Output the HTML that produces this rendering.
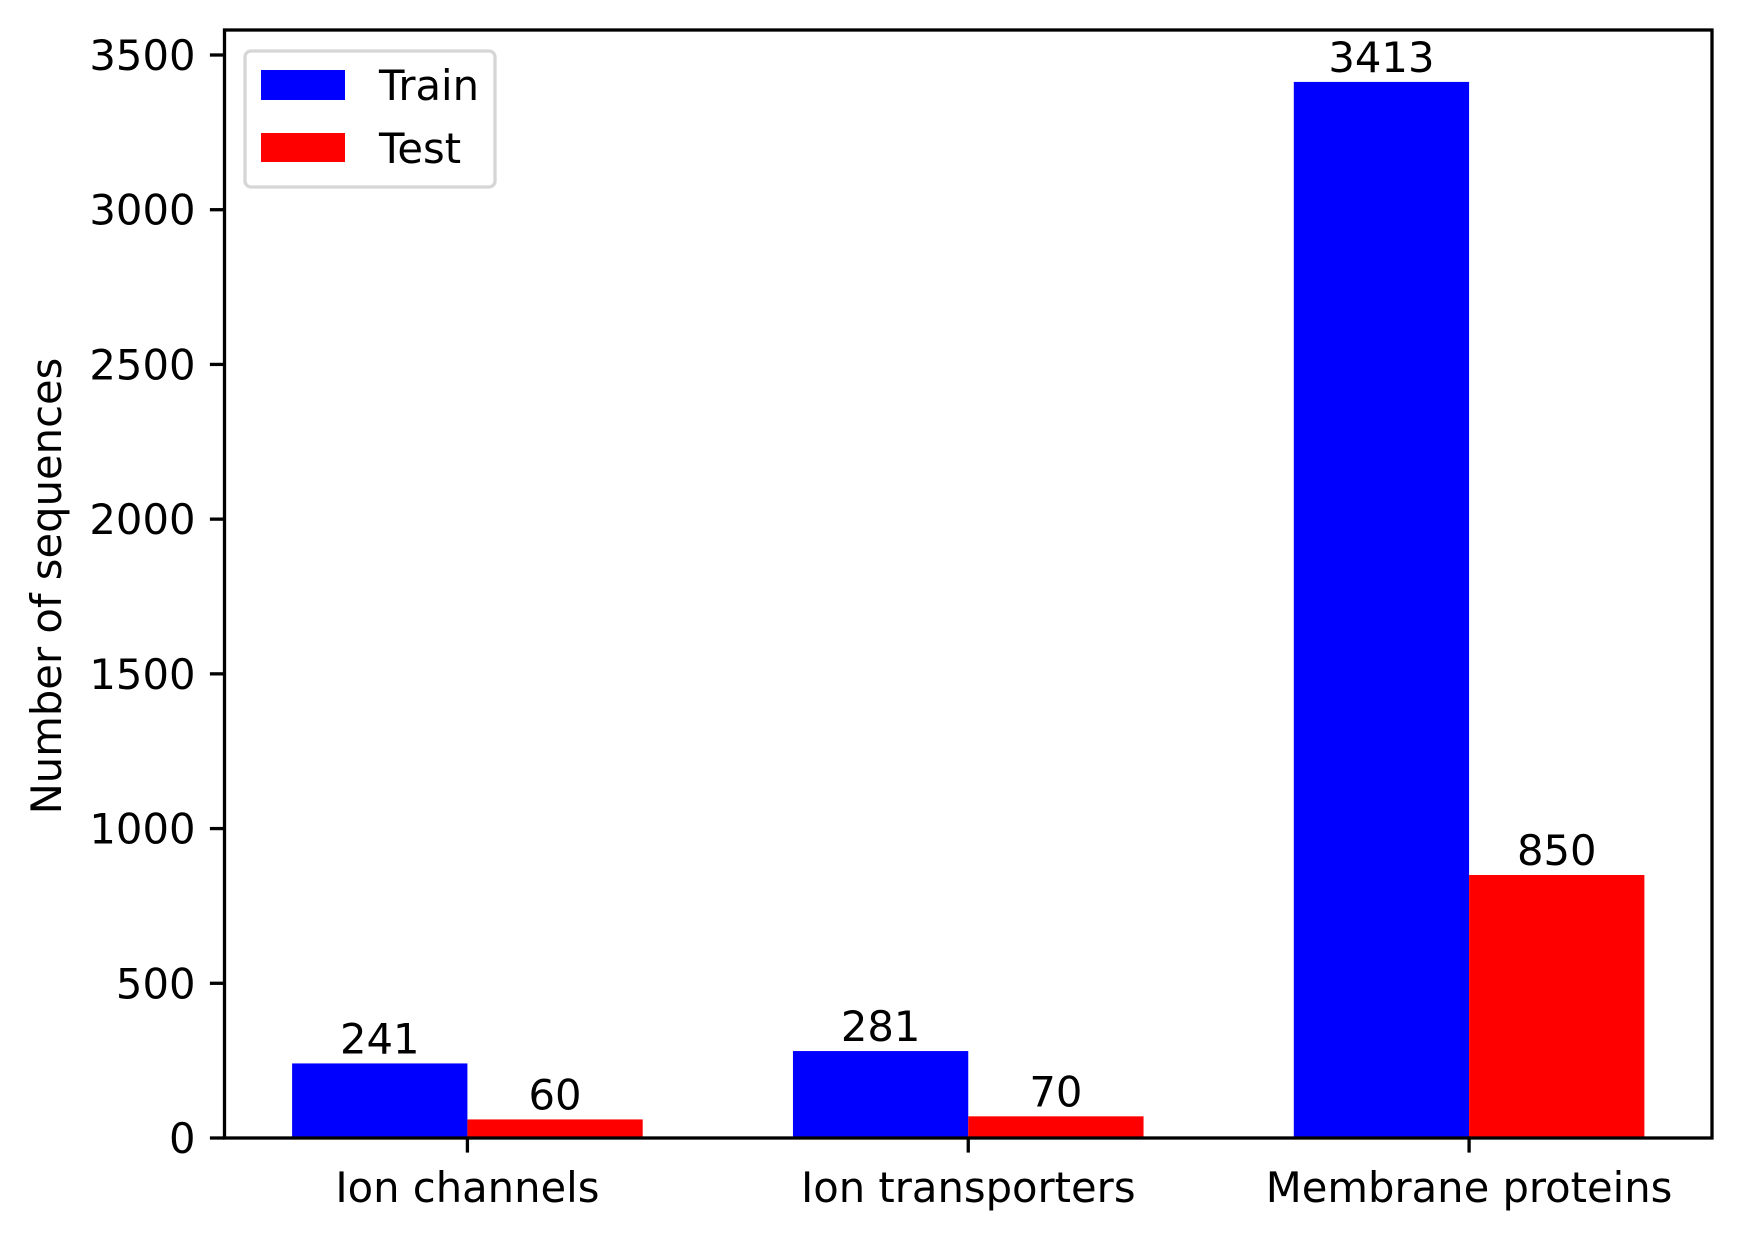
<!DOCTYPE html>
<html><head><meta charset="utf-8"><style>
html,body{margin:0;padding:0;background:#fff;}
svg{display:block;font-family:"DejaVu Sans","Liberation Sans",sans-serif;}
</style></head><body>
<svg id="chart" width="1741" height="1239" viewBox="0 0 1741 1239">
<g id="bars"></g>
<g id="axes"></g>
</svg>
<script>
const categories = ["Ion channels", "Ion transporters", "Membrane proteins"];
const trainValues = [241, 281, 3413];
const testValues = [60, 70, 850];
const yTicks = [0, 500, 1000, 1500, 2000, 2500, 3000, 3500];

const L = 224.5, R = 1712, T = 30, B = 1138;
const pxPerUnitY = (B - 55) / 3500;
const xMin = -0.485, xMax = 2.485;
const barW = 0.35;
function x(v){ return L + (v - xMin) / (xMax - xMin) * (R - L); }
function y(v){ return B - v * pxPerUnitY; }
const NS = "http://www.w3.org/2000/svg";
function mk(tag, attrs, parent, text){
  const e = document.createElementNS(NS, tag);
  for (const k in attrs) e.setAttribute(k, attrs[k]);
  if (text !== undefined) e.textContent = text;
  parent.appendChild(e); return e;
}
const bars = document.getElementById('bars');
const axes = document.getElementById('axes');
const FS = 41.7;

categories.forEach((c, i) => {
  const series = [[trainValues[i], i - barW, '#0000ff', 'train'], [testValues[i], i, '#ff0000', 'test']];
  series.forEach(([v, x0, col, nm]) => {
    const r = mk('rect', {x: x(x0), y: y(v), width: x(x0 + barW) - x(x0), height: B - y(v), fill: col}, bars);
    
    
    const t = mk('text', {x: x(x0 + barW / 2), y: y(v) - 10, 'text-anchor': 'middle', 'font-size': FS, fill: '#000'}, bars, String(v));
    
    
  });
  const tk = mk('line', {x1: x(i), x2: x(i), y1: B, y2: B + 14.6, stroke: '#000', 'stroke-width': 3.3}, axes);
  
  
  const tl = mk('text', {x: x(i), y: B + 64, 'text-anchor': 'middle', 'font-size': FS}, axes, c);
  
  
});

yTicks.forEach(v => {
  const tk = mk('line', {x1: L - 14.6, x2: L, y1: y(v), y2: y(v), stroke: '#000', 'stroke-width': 3.3}, axes);
  
  
  const tl = mk('text', {x: L - 29, y: y(v) + 15, 'text-anchor': 'end', 'font-size': FS}, axes, String(v));
  
  
});

const frame = mk('rect', {x: L, y: T, width: R - L, height: B - T, fill: 'none', stroke: '#000', 'stroke-width': 3.3}, axes);



const yl = mk('text', {x: 0, y: 0, transform: 'translate(61,586) rotate(-90)', 'text-anchor': 'middle', 'font-size': FS}, axes, 'Number of sequences');



const lg = mk('g', {}, axes);


mk('rect', {x: 245, y: 51, width: 250, height: 136, rx: 6, fill: '#fff', 'fill-opacity': 0.8, stroke: '#d6d6d6', 'stroke-width': 3.3}, lg);
const e1 = mk('rect', {x: 261, y: 70, width: 84, height: 30, fill: '#0000ff'}, lg);


const t1 = mk('text', {x: 379, y: 100, 'font-size': FS}, lg, 'Train');


const e2 = mk('rect', {x: 261, y: 133, width: 84, height: 29, fill: '#ff0000'}, lg);


const t2 = mk('text', {x: 379, y: 163, 'font-size': FS}, lg, 'Test');


</script>
</body></html>
